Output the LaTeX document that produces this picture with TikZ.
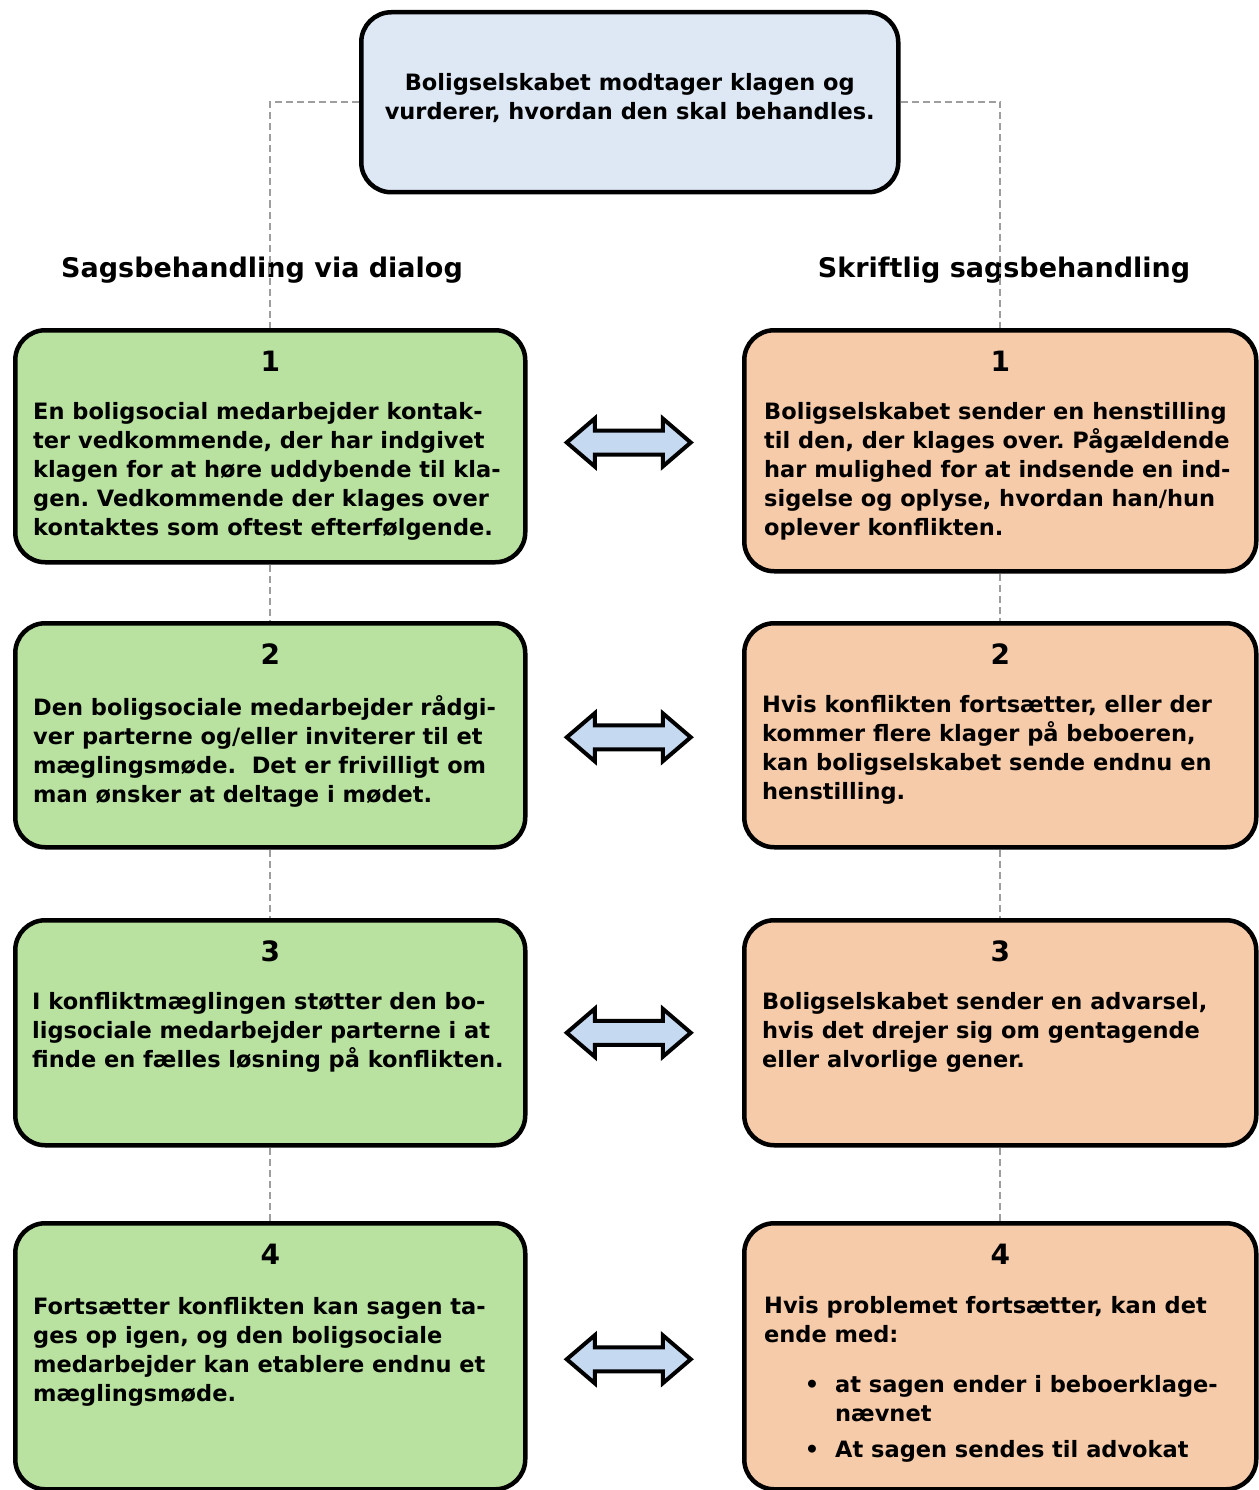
\documentclass[tikz,border=0pt]{standalone}
\usepackage{fontspec}
\setmainfont{DejaVu Sans}
\usepackage{xcolor}
\usepackage{tikz}
\usetikzlibrary{shapes, arrows, positioning, calc}
\frenchspacing

\definecolor{topblue}{HTML}{DDE8F4}
\definecolor{dialoggreen}{HTML}{B9E2A1}
\definecolor{letterorange}{HTML}{F6CBA9}
\definecolor{arrowblue}{HTML}{C5D9F1}
\definecolor{linkgray}{HTML}{9E9E9E}

\begin{document}
\begin{tikzpicture}[x=1pt, y=1pt,
  box/.style={draw=black, line width=4.5pt, rounded corners=30pt, anchor=north west, inner sep=0pt},
  greenbox/.style={box, fill=dialoggreen},
  orangebox/.style={box, fill=letterorange},
  num/.style={font=\fontsize{28}{30}\selectfont\bfseries},
  head/.style={font=\fontsize{27}{30}\selectfont\bfseries},
  body/.style={font=\fontsize{22.5}{29}\selectfont\bfseries, align=left, anchor=north west, inner sep=0pt},
  link/.style={draw=linkgray, line width=1.8pt, dash pattern=on 7pt off 4pt},
  both/.style={draw=black, line width=4pt, fill=arrowblue, line join=miter}
]
  \useasboundingbox (0,0) rectangle (1258,-1490);

  % Top box
  \node[box, fill=topblue, minimum width=537pt, minimum height=180pt] (top) at (359,-10) {};
  \node[align=center, font=\fontsize{22.5}{29}\selectfont\bfseries] (toptext)
    at ($(top.center)+(0,4)$)
    {Boligselskabet modtager klagen og\\vurderer, hvordan den skal behandles.};

  % Column headings
  \node[head] (lhead) at (262,-270) {Sagsbehandling via dialog};
  \node[head] (rhead) at (1004,-270) {Skriftlig sagsbehandling};

  % Left column: dialog
  \node[greenbox, minimum width=510pt, minimum height=232pt] (l1) at (13,-328) {};
  \node[greenbox, minimum width=510pt, minimum height=224pt] (l2) at (13,-621) {};
  \node[greenbox, minimum width=510pt, minimum height=225pt] (l3) at (13,-918) {};
  \node[greenbox, minimum width=510pt, minimum height=266pt] (l4) at (13,-1221) {};

  % Right column: written
  \node[orangebox, minimum width=512pt, minimum height=241pt] (r1) at (742,-328) {};
  \node[orangebox, minimum width=512pt, minimum height=224pt] (r2) at (742,-621) {};
  \node[orangebox, minimum width=512pt, minimum height=225pt] (r3) at (742,-918) {};
  \node[orangebox, minimum width=512pt, minimum height=266pt] (r4) at (742,-1221) {};

  % Step numbers
  \foreach \n in {1,2,3,4} {
    \node[num] (l\n num) at ($(l\n.north)+(0,-33)$) {\n};
    \node[num] (r\n num) at ($(r\n.north)+(0,-33)$) {\n};
  }

  % Texts, left
  \node[body] (l1text) at ($(l1.north west)+(20,-74)$)
    {En boligsocial medarbejder kontak-\\
     ter vedkommende, der har indgivet\\
     klagen for at høre uddybende til kla-\\
     gen. Vedkommende der klages over\\
     kontaktes som oftest efterfølgende.};
  \node[body] (l2text) at ($(l2.north west)+(20,-74)$)
    {Den boligsociale medarbejder rådgi-\\
     ver parterne og/eller inviterer til et\\
     mæglingsmøde.\ \ Det er frivilligt om\\
     man ønsker at deltage i mødet.};
  \node[body] (l3text) at ($(l3.north west)+(19,-74)$)
    {I konfliktmæglingen støtter den bo-\\
     ligsociale medarbejder parterne i at\\
     finde en fælles løsning på konflikten.};
  \node[body] (l4text) at ($(l4.north west)+(20,-76)$)
    {Fortsætter konflikten kan sagen ta-\\
     ges op igen, og den boligsociale\\
     medarbejder kan etablere endnu et\\
     mæglingsmøde.};

  % Texts, right
  \node[body] (r1text) at ($(r1.north west)+(22,-74)$)
    {Boligselskabet sender en henstilling\\
     til den, der klages over. Pågældende\\
     har mulighed for at indsende en ind-\\
     sigelse og oplyse, hvordan han/hun\\
     oplever konflikten.};
  \node[body] (r2text) at ($(r2.north west)+(20,-74)$)
    {Hvis konflikten fortsætter, eller der\\
     kommer flere klager på beboeren,\\
     kan boligselskabet sende endnu en\\
     henstilling.};
  \node[body] (r3text) at ($(r3.north west)+(20,-74)$)
    {Boligselskabet sender en advarsel,\\
     hvis det drejer sig om gentagende\\
     eller alvorlige gener.};
  \node[body] (r4text) at ($(r4.north west)+(22,-75)$)
    {Hvis problemet fortsætter, kan det\\
     ende med:\\[21pt]
     \hspace*{71pt}\llap{\textbullet\hspace{16pt}}at sagen ender i beboerklage-\\
     \hspace*{71pt}nævnet\\[7pt]
     \hspace*{71pt}\llap{\textbullet\hspace{16pt}}At sagen sendes til advokat};

  % Double arrows between the columns
  \foreach \n/\dy in {1/6,2/-2,3/0,4/-3} {
    \coordinate (a\n) at ($(l\n.east)!0.5!(r\n.west)+(-6,\dy)$);
    \draw[both] ($(a\n)+(-62,0)$) -- ++(28,24) -- ++(0,-12) -- ++(68,0)
      -- ++(0,12) -- ++(28,-24) -- ++(-28,-24) -- ++(0,12) -- ++(-68,0)
      -- ++(0,-12) -- cycle;
  }

  % Dashed connectors
  \draw[link] (top.west) -| (l1.north);
  \draw[link] (top.east) -| (r1.north);
  \draw[link] (l1.south) -- (l2.north);
  \draw[link] (l2.south) -- (l3.north);
  \draw[link] (l3.south) -- (l4.north);
  \draw[link] (r1.south) -- (r2.north);
  \draw[link] (r2.south) -- (r3.north);
  \draw[link] (r3.south) -- (r4.north);
\end{tikzpicture}
\end{document}
